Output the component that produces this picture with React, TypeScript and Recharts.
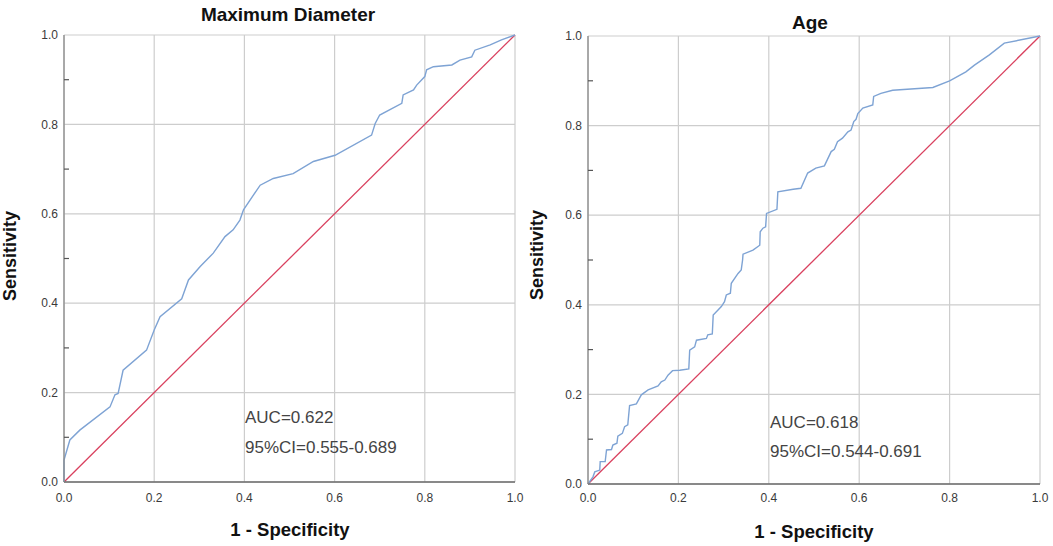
import { CartesianGrid, Line, LineChart, XAxis, YAxis } from "recharts";

// ROC curve points (1 - specificity, sensitivity)
const diameterFpr = [0, 0, 0.013, 0.035, 0.102, 0.113, 0.12, 0.131, 0.183, 0.2, 0.213, 0.261, 0.276, 0.302, 0.331, 0.357, 0.375, 0.39, 0.398, 0.435, 0.464, 0.508, 0.553, 0.601, 0.682, 0.69, 0.7, 0.749, 0.752, 0.775, 0.782, 0.8, 0.804, 0.819, 0.86, 0.878, 0.904, 0.911, 0.945, 0.97, 1];
const diameterTpr = [0, 0.049, 0.094, 0.116, 0.168, 0.195, 0.198, 0.25, 0.295, 0.34, 0.37, 0.41, 0.452, 0.482, 0.512, 0.549, 0.564, 0.586, 0.609, 0.664, 0.679, 0.69, 0.717, 0.731, 0.776, 0.802, 0.821, 0.847, 0.866, 0.877, 0.888, 0.907, 0.922, 0.929, 0.933, 0.944, 0.951, 0.966, 0.978, 0.989, 1];

const ageFpr = [0, 0.011, 0.015, 0.026, 0.027, 0.038, 0.041, 0.052, 0.055, 0.064, 0.066, 0.076, 0.081, 0.088, 0.092, 0.107, 0.118, 0.133, 0.155, 0.162, 0.17, 0.177, 0.187, 0.203, 0.223, 0.225, 0.236, 0.24, 0.262, 0.265, 0.275, 0.277, 0.295, 0.302, 0.306, 0.315, 0.317, 0.332, 0.339, 0.342, 0.343, 0.365, 0.38, 0.381, 0.387, 0.393, 0.395, 0.418, 0.42, 0.454, 0.471, 0.486, 0.504, 0.523, 0.538, 0.545, 0.552, 0.563, 0.575, 0.582, 0.588, 0.593, 0.597, 0.608, 0.63, 0.632, 0.648, 0.674, 0.763, 0.8, 0.836, 0.855, 0.888, 0.921, 1];
const ageTpr = [0, 0.016, 0.027, 0.031, 0.05, 0.05, 0.076, 0.077, 0.087, 0.091, 0.107, 0.113, 0.128, 0.132, 0.175, 0.179, 0.199, 0.21, 0.219, 0.228, 0.232, 0.243, 0.253, 0.254, 0.257, 0.299, 0.306, 0.321, 0.325, 0.333, 0.335, 0.377, 0.396, 0.407, 0.422, 0.426, 0.448, 0.47, 0.478, 0.5, 0.513, 0.522, 0.533, 0.563, 0.571, 0.574, 0.604, 0.613, 0.652, 0.658, 0.66, 0.694, 0.705, 0.71, 0.742, 0.747, 0.764, 0.772, 0.786, 0.79, 0.809, 0.814, 0.827, 0.839, 0.846, 0.865, 0.872, 0.879, 0.885, 0.9, 0.92, 0.935, 0.958, 0.984, 1];

const diagonal = [0, 1];
const majorTicks = [0, 0.2, 0.4, 0.6, 0.8, 1];
const minorTicks = [0.1, 0.3, 0.5, 0.7, 0.9];
const allYTicks = [...majorTicks, ...minorTicks].sort((a, b) => a - b);

const font = "'Liberation Sans', Arial, sans-serif";
const toPoints = (xs: number[], ys: number[]) => xs.map((x, i) => ({ fpr: x, tpr: ys[i] }));
const fmt = (v: number) => v.toFixed(1);
const isMajor = (v: number) => Math.round(v * 10) % 2 === 0;

// y tick: label for major values, short inward mark for minor ones
function YTick({ x, y, payload }: any) {
  const v = payload.value as number;
  if (isMajor(v)) {
    return (
      <text x={x} y={y} dy="0.355em" textAnchor="end" fontSize={12} fill="#3a3a3a" fontFamily={font}>
        {fmt(v)}
      </text>
    );
  }
  return <line x1={x + 6} x2={x + 11} y1={y} y2={y} stroke="#555" strokeWidth={1.2} />;
}

type PanelProps = {
  left: number;
  width: number;
  top: number;
  right: number;
  bottom: number;
  tickGap: number;
  fpr: number[];
  tpr: number[];
};

function RocPanel({ left, width, top, right, bottom, tickGap, fpr, tpr }: PanelProps) {
  const curve = toPoints(fpr, tpr);
  const diag = toPoints(diagonal, diagonal);
  const tickStyle = { fontSize: 12, fill: "#3a3a3a", fontFamily: font };
  return (
    <div style={{ position: "absolute", left, top: 0 }}>
      <LineChart width={width} height={546} margin={{ top, right, left: 0, bottom: 0 }}>
        <CartesianGrid stroke="#cdcdcd" strokeWidth={1.2} horizontalValues={majorTicks} verticalValues={majorTicks} />
        <XAxis dataKey="fpr" type="number" domain={[0, 1]} ticks={majorTicks} tickFormatter={fmt} height={546 - bottom} tickSize={0} tickMargin={tickGap} tick={tickStyle} axisLine={{ stroke: "#6a6a6a", strokeWidth: 1.3 }} interval={0} />
        <XAxis xAxisId="top" orientation="top" type="number" domain={[0, 1]} height={0} tick={false} tickLine={false} axisLine={{ stroke: "#2a2a2a", strokeWidth: 1.4 }} />
        <YAxis type="number" domain={[0, 1]} ticks={allYTicks} width={64} tickSize={0} tickMargin={6} tick={<YTick />} tickLine={false} axisLine={{ stroke: "#8a8a8a", strokeWidth: 1.3 }} interval={0} />
        <YAxis yAxisId="right" orientation="right" type="number" domain={[0, 1]} width={0} tick={false} tickLine={false} axisLine={{ stroke: "#2a2a2a", strokeWidth: 1.4 }} />
        <Line data={diag} dataKey="tpr" type="linear" stroke="#d9415f" strokeWidth={1.3} dot={false} isAnimationActive={false} />
        <Line data={curve} dataKey="tpr" type="linear" stroke="#7ea3d4" strokeWidth={1.4} dot={false} isAnimationActive={false} />
      </LineChart>
    </div>
  );
}

const centered = (x: number, y: number, extra: React.CSSProperties = {}): React.CSSProperties => ({
  position: "absolute",
  left: x,
  top: y,
  transform: "translate(-50%, -50%)",
  lineHeight: 1,
  whiteSpace: "nowrap",
  fontFamily: font,
  color: "#111",
  ...extra,
});

const note = (x: number, y: number): React.CSSProperties => ({
  position: "absolute",
  left: x,
  top: y,
  transform: "translateY(-50%)",
  lineHeight: 1,
  whiteSpace: "nowrap",
  fontFamily: font,
  fontSize: 17,
  color: "#444",
});

export default function App() {
  return (
    <div style={{ position: "absolute", left: 0, top: 0, width: 1053, height: 546, background: "#fff", overflow: "hidden" }}>
      <RocPanel left={0} width={530} top={35} right={15} bottom={482} tickGap={11} fpr={diameterFpr} tpr={diameterTpr} />
      <RocPanel left={524} width={529} top={36} right={13} bottom={484} tickGap={9} fpr={ageFpr} tpr={ageTpr} />

      <div style={centered(288, 14, { fontSize: 19, fontWeight: 700 })}>Maximum Diameter</div>
      <div style={centered(810, 22, { fontSize: 19, fontWeight: 700 })}>Age</div>

      <div style={centered(10, 256, { fontSize: 18, fontWeight: 700, transform: "translate(-50%, -50%) rotate(-90deg)" })}>Sensitivity</div>
      <div style={centered(537, 255, { fontSize: 18, fontWeight: 700, transform: "translate(-50%, -50%) rotate(-90deg)" })}>Sensitivity</div>

      <div style={centered(290, 530, { fontSize: 18.5, fontWeight: 700 })}>1 - Specificity</div>
      <div style={centered(814, 532, { fontSize: 18.5, fontWeight: 700 })}>1 - Specificity</div>

      <div style={note(245, 417)}>AUC=0.622</div>
      <div style={note(245, 447)}>95%CI=0.555-0.689</div>
      <div style={note(770, 422)}>AUC=0.618</div>
      <div style={note(770, 451)}>95%CI=0.544-0.691</div>
    </div>
  );
}
